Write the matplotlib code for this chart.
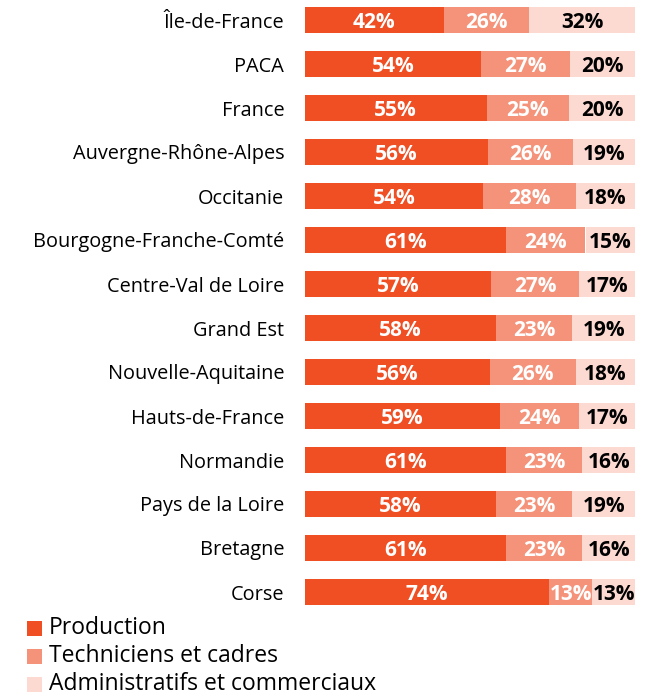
import matplotlib as mpl
import matplotlib.pyplot as plt
from matplotlib import font_manager as fm
from matplotlib.patches import Rectangle

mpl.rcParams['font.family'] = ['Open Sans', 'DejaVu Sans']

regions = ['Île-de-France', 'PACA', 'France', 'Auvergne-Rhône-Alpes', 'Occitanie',
           'Bourgogne-Franche-Comté', 'Centre-Val de Loire', 'Grand Est',
           'Nouvelle-Aquitaine', 'Hauts-de-France', 'Normandie', 'Pays de la Loire',
           'Bretagne', 'Corse']
production = [42, 54, 55, 56, 54, 61, 57, 58, 56, 59, 61, 58, 61, 74]
techniciens = [26, 27, 25, 26, 28, 24, 27, 23, 26, 24, 23, 23, 23, 13]
administratifs = [32, 20, 20, 19, 18, 15, 17, 19, 18, 17, 16, 19, 16, 13]

series = ['Production', 'Techniciens et cadres', 'Administratifs et commerciaux']
colors = ['#f04e23', '#f4937a', '#fcdad2']
text_colors = ['white', 'white', 'black']

# pick the static Open Sans Bold file (avoid the condensed one)
bold_file = None
for f in fm.fontManager.ttflist:
    if f.fname.endswith('OpenSans-Bold.ttf'):
        bold_file = f.fname
if bold_file:
    bold = fm.FontProperties(fname=bold_file, size=15)
else:
    bold = fm.FontProperties(family='Open Sans', weight='bold', size=15)

W, H = 651, 693
fig = plt.figure(figsize=(W / 100, H / 100), dpi=100)
ax = fig.add_axes([305 / W, (H - 606) / H, 330 / W, 600 / H])

data = [production, techniciens, administratifs]
totals = [sum(v) for v in zip(*data)]
left = [0.0] * len(regions)
for vals, col, tcol in zip(data, colors, text_colors):
    widths = [v / t for v, t in zip(vals, totals)]
    bars = ax.barh(range(len(regions)), widths, left=left, height=0.61,
                   color=col, edgecolor='none')
    for b, v in zip(bars, vals):
        ax.text(b.get_x() + b.get_width() / 2, b.get_y() + b.get_height() / 2,
                f'{v}%', ha='center', va='center_baseline', color=tcol,
                fontproperties=bold)
    left = [l + w for l, w in zip(left, widths)]

m = (600 / 44 - 13) / 2
ax.set_xlim(0, 1)
ax.set_ylim(len(regions) - 1 + m, -m)
ax.set_yticks(range(len(regions)))
ax.set_yticklabels(regions, fontsize=14.35)
ax.tick_params(axis='y', length=0, pad=15)
ax.set_xticks([])
for s in ax.spines.values():
    s.set_visible(False)

# legend
for i, (name, col) in enumerate(zip(series, colors)):
    yc = 628 + 28 * i
    fig.add_artist(Rectangle((27 / W, (H - yc - 8) / H), 15 / W, 15 / H,
                             transform=fig.transFigure, color=col, lw=0))
    fig.text(49 / W, (H - yc) / H, name, fontsize=16.5, va='center', ha='left')

plt.savefig('out.png', dpi=100)
